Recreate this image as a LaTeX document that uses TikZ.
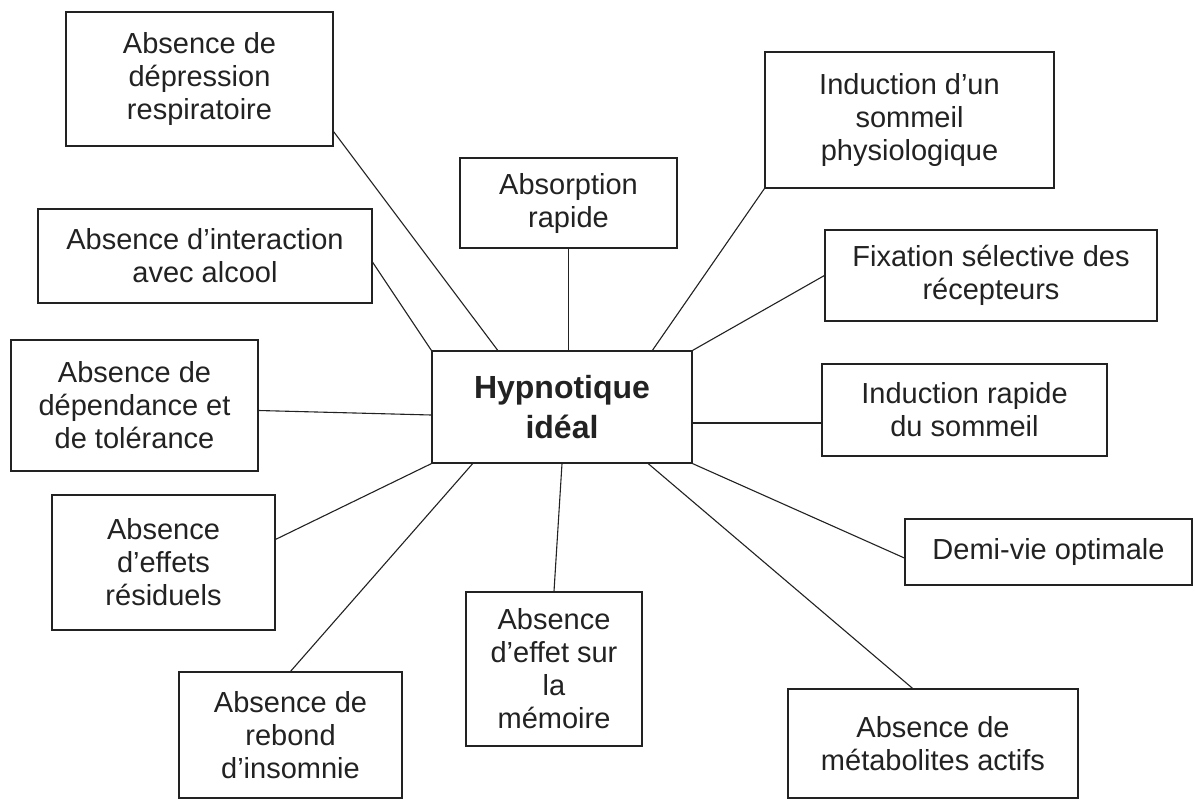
\documentclass[tikz,border=0pt]{standalone}
\usepackage{fontspec}
\usetikzlibrary{calc}
\newfontfamily\labelfont{Liberation Sans}
\definecolor{ink}{HTML}{222222}
\tikzset{
  box/.style={draw=ink, text=ink, line width=1.2pt, inner sep=0pt, align=center,
    font={\labelfont\fontsize{29}{33}\selectfont}},
  hub/.style={box, font={\labelfont\bfseries\fontsize{32}{40}\selectfont}},
  link/.style={draw=ink, line width=1.1pt}
}
\begin{document}
\begin{tikzpicture}[x=1pt,y=-1pt]
\useasboundingbox[fill=white] (0,0) rectangle (1195,801);

% central concept
\node[hub, minimum width=260pt, minimum height=112pt] (c) at (562,407) {Hypnotique\\idéal};

% surrounding properties
\node[box, minimum width=267pt, minimum height=134pt] (resp)  at (199.5,79)   {Absence de\\dépression\\respiratoire};
\node[box, minimum width=217pt, minimum height=90pt]  (abs)   at (568.5,203)  {Absorption\\rapide};
\node[box, minimum width=289pt, minimum height=136pt] (phys)  at (909.5,120)  {Induction d’un\\sommeil\\physiologique};
\node[box, minimum width=334pt, minimum height=94pt]  (inter) at (205,256)    {Absence d’interaction\\avec alcool};
\node[box, minimum width=332pt, minimum height=91pt]  (fix)   at (991,275.5)  {Fixation sélective des\\récepteurs};
\node[box, minimum width=247pt, minimum height=131pt] (dep)   at (134.5,405.5){Absence de\\dépendance et\\de tolérance};
\node[box, minimum width=285pt, minimum height=92pt]  (ir)    at (964.5,410)  {Induction rapide\\du sommeil};
\node[box, minimum width=223pt, minimum height=135pt] (eff)   at (163.5,562.5){Absence\\d’effets\\résiduels};
\node[box, minimum width=287pt, minimum height=66pt]  (demi)  at (1048.5,552) {Demi-vie optimale};
\node[box, minimum width=176pt, minimum height=154pt] (mem)   at (554,669)    {Absence\\d’effet sur\\la\\mémoire};
\node[box, minimum width=223pt, minimum height=126pt] (reb)   at (290.5,735)  {Absence de\\rebond\\d’insomnie};
\node[box, minimum width=290pt, minimum height=109pt] (meta)  at (933,743.5)  {Absence de\\métabolites actifs};

% spokes
\draw[link] ($(resp.south east)+(0,-15)$) -- ($(c.north west)!0.254!(c.north east)$);
\draw[link] ($(inter.north east)!0.565!(inter.south east)$) -- (c.north west);
\draw[link] (abs.south) -- (abs.south |- c.north);
\draw[link] (phys.south west) -- ($(c.north west)!0.846!(c.north east)$);
\draw[link] (fix.west) -- (c.north east);
\draw[link] ($(c.east)+(0,16)$) coordinate (p6) -- (p6 -| ir.west);
\draw[link] (c.south east) -- ($(demi.west)+(0,6)$);
\draw[link] ($(c.south west)!0.83!(c.south east)$) -- ($(meta.north west)!0.43!(meta.north east)$);
\draw[link] (c.south) -- (mem.north);
\draw[link] ($(c.south west)!0.158!(c.south east)$) -- (reb.north);
\draw[link] ($(eff.north east)+(0,45)$) -- (c.south west);
\draw[link] ($(dep.east)+(0,5)$) -- ($(c.west)+(0,8)$);
\end{tikzpicture}
\end{document}
